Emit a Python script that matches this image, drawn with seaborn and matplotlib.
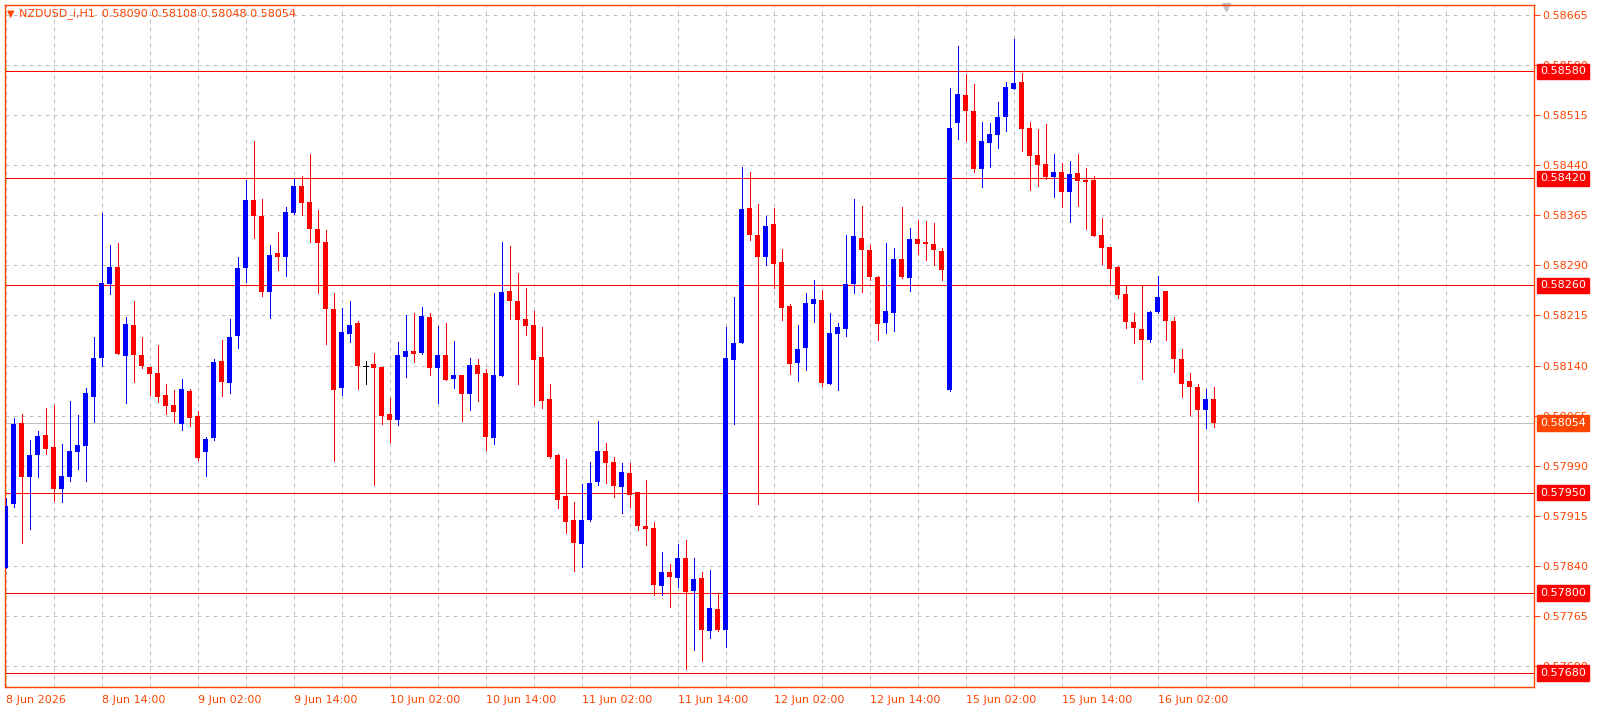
import numpy as np
import pandas as pd
import seaborn as sns
import matplotlib.pyplot as plt
import matplotlib.transforms as mtransforms
from matplotlib.ticker import MultipleLocator

symbol = 'NZDUSD_i,H1'

# hourly OHLC, first bar = 8 Jun 2026 02:00
opens = [0.57837, 0.57933, 0.58054, 0.57973, 0.58006, 0.58036, 0.58018, 0.57955, 0.57973, 0.58011, 0.58020, 0.58093,
         0.58151, 0.58262, 0.58288, 0.58154, 0.58201, 0.58156, 0.58138, 0.58129, 0.58096, 0.58081, 0.58053, 0.58102,
         0.58065, 0.58011, 0.58032, 0.58147, 0.58114, 0.58184, 0.58286, 0.58388, 0.58364, 0.58250, 0.58308, 0.58302,
         0.58368, 0.58409, 0.58385, 0.58344, 0.58325, 0.58225, 0.58106, 0.58187, 0.58204, 0.58139, 0.58142, 0.58138,
         0.58068, 0.58059, 0.58153, 0.58162, 0.58159, 0.58213, 0.58136, 0.58156, 0.58120, 0.58126, 0.58097, 0.58141,
         0.58129, 0.58032, 0.58124, 0.58252, 0.58237, 0.58210, 0.58201, 0.58153, 0.58090, 0.58006, 0.57945, 0.57909,
         0.57873, 0.57909, 0.57966, 0.58012, 0.57996, 0.57958, 0.57979, 0.57951, 0.57900, 0.57897, 0.57810, 0.57831,
         0.57822, 0.57852, 0.57803, 0.57822, 0.57743, 0.57776, 0.57744, 0.58148, 0.58174, 0.58376, 0.58335, 0.58302,
         0.58352, 0.58295, 0.58229, 0.58144, 0.58166, 0.58232, 0.58238, 0.58112, 0.58187, 0.58195, 0.58262, 0.58331,
         0.58313, 0.58272, 0.58204, 0.58219, 0.58299, 0.58271, 0.58329, 0.58325, 0.58322, 0.58311, 0.58103, 0.58503,
         0.58545, 0.58521, 0.58434, 0.58473, 0.58485, 0.58512, 0.58554, 0.58564, 0.58495, 0.58455, 0.58442, 0.58422,
         0.58430, 0.58400, 0.58428, 0.58418, 0.58418, 0.58335, 0.58317, 0.58288, 0.58247, 0.58205, 0.58195, 0.58178,
         0.58220, 0.58252, 0.58207, 0.58150, 0.58117, 0.58108, 0.58074, 0.58090]
highs = [0.57942, 0.58062, 0.58068, 0.58029, 0.58042, 0.58077, 0.58081, 0.58023, 0.58087, 0.58066, 0.58106, 0.58183,
         0.58368, 0.58320, 0.58323, 0.58213, 0.58237, 0.58183, 0.58138, 0.58171, 0.58112, 0.58103, 0.58120, 0.58105,
         0.58072, 0.58033, 0.58150, 0.58178, 0.58210, 0.58302, 0.58418, 0.58476, 0.58389, 0.58320, 0.58340, 0.58377,
         0.58421, 0.58424, 0.58457, 0.58373, 0.58343, 0.58249, 0.58226, 0.58237, 0.58207, 0.58147, 0.58159, 0.58138,
         0.58091, 0.58175, 0.58216, 0.58219, 0.58228, 0.58219, 0.58199, 0.58204, 0.58177, 0.58126, 0.58151, 0.58150,
         0.58135, 0.58249, 0.58325, 0.58319, 0.58278, 0.58256, 0.58222, 0.58198, 0.58112, 0.58008, 0.58000, 0.57936,
         0.57963, 0.57996, 0.58057, 0.58024, 0.58003, 0.57994, 0.57994, 0.57951, 0.57969, 0.57906, 0.57861, 0.57843,
         0.57873, 0.57879, 0.57852, 0.57831, 0.57834, 0.57798, 0.58198, 0.58243, 0.58437, 0.58430, 0.58382, 0.58364,
         0.58376, 0.58314, 0.58232, 0.58201, 0.58249, 0.58268, 0.58253, 0.58219, 0.58204, 0.58335, 0.58389, 0.58379,
         0.58320, 0.58274, 0.58323, 0.58316, 0.58377, 0.58346, 0.58358, 0.58356, 0.58353, 0.58316, 0.58555, 0.58618,
         0.58576, 0.58561, 0.58504, 0.58503, 0.58534, 0.58564, 0.58629, 0.58578, 0.58504, 0.58494, 0.58501, 0.58457,
         0.58443, 0.58446, 0.58457, 0.58436, 0.58424, 0.58361, 0.58317, 0.58289, 0.58259, 0.58219, 0.58259, 0.58222,
         0.58274, 0.58252, 0.58213, 0.58165, 0.58129, 0.58112, 0.58105, 0.58108]
lows = [0.57837, 0.57928, 0.57875, 0.57896, 0.57973, 0.58008, 0.57937, 0.57936, 0.57967, 0.57985, 0.57967, 0.58056,
        0.58139, 0.58247, 0.58157, 0.58084, 0.58115, 0.58136, 0.58096, 0.58086, 0.58068, 0.58056, 0.58044, 0.58050,
        0.57999, 0.57975, 0.58029, 0.58094, 0.58099, 0.58166, 0.58265, 0.58331, 0.58244, 0.58211, 0.58283, 0.58274,
        0.58367, 0.58365, 0.58325, 0.58249, 0.58172, 0.57997, 0.58096, 0.58175, 0.58105, 0.58112, 0.57961, 0.58053,
        0.58026, 0.58051, 0.58123, 0.58145, 0.58157, 0.58126, 0.58084, 0.58118, 0.58106, 0.58057, 0.58073, 0.58087,
        0.58014, 0.58023, 0.58124, 0.58210, 0.58112, 0.58186, 0.58081, 0.58077, 0.58002, 0.57927, 0.57889, 0.57833,
        0.57839, 0.57907, 0.57961, 0.57964, 0.57943, 0.57919, 0.57928, 0.57894, 0.57871, 0.57797, 0.57797, 0.57779,
        0.57809, 0.57686, 0.57714, 0.57698, 0.57732, 0.57743, 0.57719, 0.58053, 0.58174, 0.58328, 0.57933, 0.58290,
        0.58256, 0.58208, 0.58127, 0.58117, 0.58133, 0.58205, 0.58109, 0.58112, 0.58103, 0.58184, 0.58249, 0.58250,
        0.58268, 0.58178, 0.58189, 0.58192, 0.58271, 0.58252, 0.58307, 0.58298, 0.58290, 0.58268, 0.58102, 0.58479,
        0.58476, 0.58430, 0.58407, 0.58437, 0.58465, 0.58491, 0.58554, 0.58461, 0.58403, 0.58409, 0.58419, 0.58392,
        0.58377, 0.58355, 0.58379, 0.58344, 0.58334, 0.58292, 0.58262, 0.58241, 0.58196, 0.58174, 0.58120, 0.58175,
        0.58219, 0.58178, 0.58130, 0.58093, 0.58066, 0.57937, 0.58047, 0.58048]
closes = [0.57930, 0.58053, 0.57973, 0.58006, 0.58035, 0.58015, 0.57955, 0.57975, 0.58012, 0.58021, 0.58099, 0.58151,
          0.58264, 0.58288, 0.58157, 0.58202, 0.58156, 0.58139, 0.58127, 0.58093, 0.58080, 0.58071, 0.58105, 0.58062,
          0.58002, 0.58030, 0.58145, 0.58115, 0.58183, 0.58286, 0.58388, 0.58364, 0.58250, 0.58305, 0.58302, 0.58370,
          0.58409, 0.58383, 0.58344, 0.58323, 0.58225, 0.58103, 0.58190, 0.58201, 0.58139, 0.58139, 0.58136, 0.58065,
          0.58059, 0.58156, 0.58162, 0.58157, 0.58214, 0.58136, 0.58156, 0.58118, 0.58126, 0.58097, 0.58141, 0.58127,
          0.58033, 0.58126, 0.58250, 0.58237, 0.58208, 0.58199, 0.58148, 0.58087, 0.58003, 0.57939, 0.57906, 0.57875,
          0.57909, 0.57964, 0.58012, 0.57994, 0.57960, 0.57981, 0.57946, 0.57900, 0.57896, 0.57812, 0.57831, 0.57824,
          0.57852, 0.57801, 0.57821, 0.57744, 0.57777, 0.57744, 0.58151, 0.58174, 0.58374, 0.58335, 0.58302, 0.58349,
          0.58292, 0.58226, 0.58142, 0.58165, 0.58234, 0.58240, 0.58114, 0.58189, 0.58198, 0.58262, 0.58334, 0.58313,
          0.58272, 0.58202, 0.58222, 0.58299, 0.58272, 0.58329, 0.58322, 0.58322, 0.58313, 0.58283, 0.58495, 0.58546,
          0.58521, 0.58434, 0.58476, 0.58486, 0.58512, 0.58557, 0.58563, 0.58494, 0.58454, 0.58440, 0.58422, 0.58430,
          0.58400, 0.58427, 0.58416, 0.58415, 0.58334, 0.58316, 0.58284, 0.58246, 0.58205, 0.58196, 0.58178, 0.58220,
          0.58243, 0.58207, 0.58150, 0.58112, 0.58108, 0.58074, 0.58090, 0.58054]

time_labels = ['8 Jun 2026', '8 Jun 14:00', '9 Jun 02:00', '9 Jun 14:00', '10 Jun 02:00', '10 Jun 14:00',
               '11 Jun 02:00', '11 Jun 14:00', '12 Jun 02:00', '12 Jun 14:00', '15 Jun 02:00', '15 Jun 14:00',
               '16 Jun 02:00']
label_bars = [0, 12, 24, 36, 48, 60, 72, 84, 96, 108, 120, 132, 144]

price_ticks = [0.58665, 0.58590, 0.58515, 0.58440, 0.58365, 0.58290, 0.58215,
               0.58140, 0.58065, 0.57990, 0.57915, 0.57840, 0.57765, 0.57690]
levels = [0.58580, 0.58420, 0.58260, 0.57950, 0.57800, 0.57680]
bid = 0.58054

df = pd.DataFrame({'open': opens, 'high': highs, 'low': lows, 'close': closes})
df['bar'] = np.arange(len(df))
df['color'] = np.where(df['close'] > df['open'], '#0000FF',
                       np.where(df['close'] < df['open'], '#FF0000', '#000000'))

sns.set_style('white')
plt.rcParams['font.family'] = ['DejaVu Sans']
fg = '#FF4500'
px = 0.72  # one pixel in points at dpi 100

fig = plt.figure(figsize=(16.01, 7.13), dpi=100)
W, H = 1601, 713
ax = fig.add_axes([4.5 / W, 1 - 687 / H, (1534 - 4.5) / W, (687 - 5) / H])

# levels + bid line
for lv in levels:
    ax.axhline(lv, color='#FF0000', lw=px, antialiased=False, zorder=2)
ax.axhline(bid, color='#C0C0C0', lw=px, antialiased=False, zorder=1)

# candles
ax.vlines(df['bar'], df['low'], df['high'], colors=df['color'], lw=px, antialiased=False, zorder=3)
body = df[df['close'] != df['open']]
ax.bar(body['bar'], (body['close'] - body['open']).abs(),
       bottom=body[['open', 'close']].min(axis=1), width=0.6,
       color=body['color'], linewidth=0, antialiased=False, zorder=4)
flat = df[df['close'] == df['open']]
ax.hlines(flat['open'], flat['bar'] - 0.3, flat['bar'] + 0.3, colors=flat['color'], lw=px,
          antialiased=False, zorder=4)

ax.set_xlim(-0.15, 191.06)
ax.set_ylim(0.57659, 0.586795)

# axes / grid
ax.yaxis.tick_right()
ax.set_yticks(price_ticks)
ax.set_yticklabels([f'{p:.5f}' for p in price_ticks])
ax.set_xticks(label_bars)
ax.set_xticklabels(time_labels, ha='left')
ax.xaxis.set_minor_locator(MultipleLocator(6))
ax.tick_params(axis='both', which='major', colors=fg, labelsize=8, length=4, width=px, pad=2)
ax.tick_params(axis='x', which='minor', length=0)
ax.set_axisbelow(True)
ax.grid(which='both', axis='x', color='#C0C0C0', lw=px, linestyle=(0, (4, 4)))
ax.grid(which='major', axis='y', color='#C0C0C0', lw=px, linestyle=(0, (4, 4)))
for s in ax.spines.values():
    s.set_color(fg)
    s.set_linewidth(1)

# price boxes on the right
trans = mtransforms.blended_transform_factory(ax.transAxes, ax.transData)
xbox = 1 + 6 / (1534 - 4.5)
for lv in levels:
    ax.text(xbox, lv, f'{lv:.5f}', transform=trans, ha='left', va='center', color='white', size=8,
            bbox=dict(boxstyle='square,pad=0.25', fc='#FF0000', ec='#FF0000'), zorder=6, clip_on=False)
ax.text(xbox, bid, f'{bid:.5f}', transform=trans, ha='left', va='center', color='white', size=8,
        bbox=dict(boxstyle='square,pad=0.25', fc=fg, ec=fg), zorder=6, clip_on=False)

# header
last = df.iloc[-1]
fig.text(7 / W, 1 - 14 / H, '\u25bc', color=fg, size=7, va='center', ha='left')
fig.text(19 / W, 1 - 14 / H,
         f"{symbol}  {last['open']:.5f} {last['high']:.5f} {last['low']:.5f} {last['close']:.5f}",
         color=fg, size=8, va='center', ha='left')
ax.plot([0.7986], [0.997], marker='v', color='#C0C0C0', ms=6, transform=ax.transAxes, clip_on=False)

fig.savefig('out.png', dpi=100, facecolor='white')
